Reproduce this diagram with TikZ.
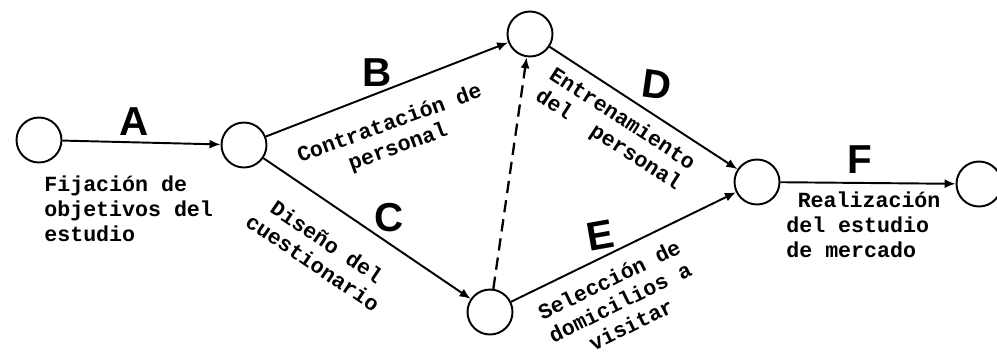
\documentclass[tikz,border=0pt]{standalone}
\usepackage{fontspec}
\setsansfont{Liberation Sans}
\setmonofont{Liberation Mono}
\usetikzlibrary{arrows.meta}

\begin{document}
\begin{tikzpicture}[
    x=0.02cm,y=-0.02cm,
    event/.style={draw,circle,line width=1.1pt,minimum size=0.9cm,inner sep=0pt},
    act/.style={-{Latex[length=2.2mm,width=1.8mm]},line width=1.1pt},
    dummy/.style={act,line width=1.3pt,dash pattern=on 7pt off 4pt},
    tag/.style={font=\sffamily\bfseries\fontsize{23}{23}\selectfont,inner sep=0pt},
    desc/.style={font=\ttfamily\bfseries\fontsize{12.3}{14.2}\selectfont,inner sep=0pt}
  ]
    \useasboundingbox (0,0) rectangle (997,353);
    \node[event] (e1) at (39,140) {};
    \node[event] (e2) at (244,145) {};
    \node[event] (e3) at (530,34) {};
    \node[event] (e4) at (490,312) {};
    \node[event] (e5) at (757,182) {};
    \node[event] (e6) at (979,184) {};
    \draw[act] (e1) -- (e2);
    \draw[act] (e2) -- (e3);
    \draw[act] (e2) -- (e4);
    \draw[dummy] (e4) -- (e3);
    \draw[act] (e3) -- (e5);
    \draw[act] (e4) -- (e5);
    \draw[act] (e5) -- (e6);
    \node[tag] (tA) at (134,122) {A};
    \node[tag] (tB) at (377,73) {B};
    \node[tag] (tC) at (389,218) {C};
    \node[tag,rotate=-8] (tD) at (657,85) {D};
    \node[tag,rotate=10] (tE) at (600,235) {E};
    \node[tag] (tF) at (860,160) {F};
    \node[desc,align=left,anchor=west] (dA) at (44,209) {Fijación de\\objetivos del\\estudio};
    \node[desc,align=center,rotate=20] (dB) at (394,136) {Contratación de\\personal};
    \node[desc,align=center,rotate=-34] (dC) at (320,252) {Diseño del\\cuestionario};
    \node[desc,align=left,rotate=-33] (dD) at (615,130) {Entrenamiento\\del\ \ personal};
    \node[desc,align=center,rotate=26] (dE) at (620,302) {Selección de\\domicilios a\\visitar};
    \node[desc,align=left,anchor=west] (dF) at (786,225) {\hspace*{1ex}Realización\\del estudio\\de mercado};
  \end{tikzpicture}
\end{document}
